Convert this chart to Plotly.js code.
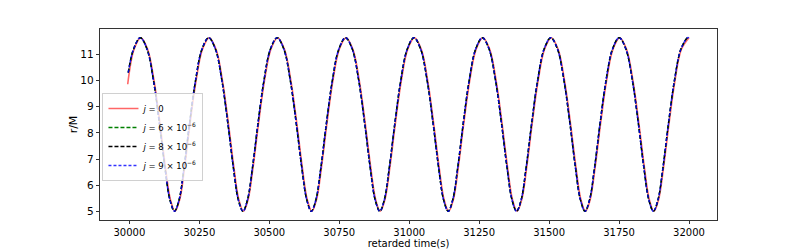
<!DOCTYPE html>
<html>
<head>
<meta charset="utf-8">
<script src="https://cdn.plot.ly/plotly-3.0.1.min.js"></script>
<style>html,body{margin:0;padding:0;background:#fff;}#chart{width:797px;height:249px;}</style>
</head>
<body>
<div id="chart"></div>
<script>
// retarded time samples for the spinning cases (j = 6e-6, 8e-6, 9e-6)
const tSpin = [29996,
  30014.75, 30039.0, 30063.25, 30086.45, 30107.9, 30127.25, 30144.75,
  30161.25, 30177.75, 30195.25, 30214.6, 30236.05, 30259.25, 30283.5, 30307.75, 30330.95, 30352.4, 30371.75, 30389.25,
  30405.75, 30422.25, 30439.75, 30459.1, 30480.55, 30503.75, 30528.0, 30552.25, 30575.45, 30596.9, 30616.25, 30633.75,
  30650.25, 30666.75, 30684.25, 30703.6, 30725.05, 30748.25, 30772.5, 30796.75, 30819.95, 30841.4, 30860.75, 30878.25,
  30894.75, 30911.25, 30928.75, 30948.1, 30969.55, 30992.75, 31017.0, 31041.25, 31064.45, 31085.9, 31105.25, 31122.75,
  31139.25, 31155.75, 31173.25, 31192.6, 31214.05, 31237.25, 31261.5, 31285.75, 31308.95, 31330.4, 31349.75, 31367.25,
  31383.75, 31400.25, 31417.75, 31437.1, 31458.55, 31481.75, 31506.0, 31530.25, 31553.45, 31574.9, 31594.25, 31611.75,
  31628.25, 31644.75, 31662.25, 31681.6, 31703.05, 31726.25, 31750.5, 31774.75, 31797.95, 31819.4, 31838.75, 31856.25,
  31872.75, 31889.25, 31906.75, 31926.1, 31947.55, 31970.75, 31995.0, 32000];
const rJ6 = [10.30,
  11.195, 11.64, 11.195, 9.98, 8.32, 6.66, 5.445,
  5.00, 5.445, 6.66, 8.32, 9.98, 11.195, 11.64, 11.195, 9.98, 8.32, 6.66, 5.445,
  5.00, 5.445, 6.66, 8.32, 9.98, 11.195, 11.64, 11.195, 9.98, 8.32, 6.66, 5.445,
  5.00, 5.445, 6.66, 8.32, 9.98, 11.195, 11.64, 11.195, 9.98, 8.32, 6.66, 5.445,
  5.00, 5.445, 6.66, 8.32, 9.98, 11.195, 11.64, 11.195, 9.98, 8.32, 6.66, 5.445,
  5.00, 5.445, 6.66, 8.32, 9.98, 11.195, 11.64, 11.195, 9.98, 8.32, 6.66, 5.445,
  5.00, 5.445, 6.66, 8.32, 9.98, 11.195, 11.64, 11.195, 9.98, 8.32, 6.66, 5.445,
  5.00, 5.445, 6.66, 8.32, 9.98, 11.195, 11.64, 11.195, 9.98, 8.32, 6.66, 5.445,
  5.00, 5.445, 6.66, 8.32, 9.98, 11.195, 11.64, 11.63];
const rJ8 = rJ6.slice();
const rJ9 = rJ6.slice();

// j = 0 case (lags very slightly)
const tZero = [29994,
  30016.75, 30041.0, 30065.25, 30088.45, 30109.9, 30129.25, 30146.75,
  30163.25, 30179.75, 30197.25, 30216.6, 30238.05, 30261.25, 30285.5, 30309.75, 30332.95, 30354.4, 30373.75, 30391.25,
  30407.75, 30424.25, 30441.75, 30461.1, 30482.55, 30505.75, 30530.0, 30554.25, 30577.45, 30598.9, 30618.25, 30635.75,
  30652.25, 30668.75, 30686.25, 30705.6, 30727.05, 30750.25, 30774.5, 30798.75, 30821.95, 30843.4, 30862.75, 30880.25,
  30896.75, 30913.25, 30930.75, 30950.1, 30971.55, 30994.75, 31019.0, 31043.25, 31066.45, 31087.9, 31107.25, 31124.75,
  31141.25, 31157.75, 31175.25, 31194.6, 31216.05, 31239.25, 31263.5, 31287.75, 31310.95, 31332.4, 31351.75, 31369.25,
  31385.75, 31402.25, 31419.75, 31439.1, 31460.55, 31483.75, 31508.0, 31532.25, 31555.45, 31576.9, 31596.25, 31613.75,
  31630.25, 31646.75, 31664.25, 31683.6, 31705.05, 31728.25, 31752.5, 31776.75, 31799.95, 31821.4, 31840.75, 31858.25,
  31874.75, 31891.25, 31908.75, 31928.1, 31949.55, 31972.75, 32000];
const rZero = [9.86,
  11.195, 11.64, 11.195, 9.98, 8.32, 6.66, 5.445,
  5.00, 5.445, 6.66, 8.32, 9.98, 11.195, 11.64, 11.195, 9.98, 8.32, 6.66, 5.445,
  5.00, 5.445, 6.66, 8.32, 9.98, 11.195, 11.64, 11.195, 9.98, 8.32, 6.66, 5.445,
  5.00, 5.445, 6.66, 8.32, 9.98, 11.195, 11.64, 11.195, 9.98, 8.32, 6.66, 5.445,
  5.00, 5.445, 6.66, 8.32, 9.98, 11.195, 11.64, 11.195, 9.98, 8.32, 6.66, 5.445,
  5.00, 5.445, 6.66, 8.32, 9.98, 11.195, 11.64, 11.195, 9.98, 8.32, 6.66, 5.445,
  5.00, 5.445, 6.66, 8.32, 9.98, 11.195, 11.64, 11.195, 9.98, 8.32, 6.66, 5.445,
  5.00, 5.445, 6.66, 8.32, 9.98, 11.195, 11.64, 11.195, 9.98, 8.32, 6.66, 5.445,
  5.00, 5.445, 6.66, 8.32, 9.98, 11.195, 11.64];

const seriesNames = ['<i>j</i> = 0', '<i>j</i> = 6 × 10<sup>−6</sup>', '<i>j</i> = 8 × 10<sup>−6</sup>', '<i>j</i> = 9 × 10<sup>−6</sup>'];
const xTickVals = [30000, 30250, 30500, 30750, 31000, 31250, 31500, 31750, 32000];
const yTickVals = [5, 6, 7, 8, 9, 10, 11];

const traces = [
  {x: tZero, y: rZero, name: seriesNames[0], mode: 'lines',
   line: {color: 'rgba(255,0,0,0.6)', width: 1.6, shape: 'spline', smoothing: 1}},
  {x: tSpin, y: rJ6, name: seriesNames[1], mode: 'lines',
   line: {color: 'green', width: 1.4, dash: '4px,2px', shape: 'spline', smoothing: 1}},
  {x: tSpin, y: rJ8, name: seriesNames[2], mode: 'lines',
   line: {color: 'black', width: 1.4, dash: '4px,2px', shape: 'spline', smoothing: 1}},
  {x: tSpin, y: rJ9, name: seriesNames[3], mode: 'lines',
   line: {color: 'rgba(0,0,255,0.8)', width: 1.5, dash: '3px,2px', shape: 'spline', smoothing: 1}}
];

const layout = {
  width: 797, height: 249,
  margin: {l: 100, r: 80, t: 29, b: 29, pad: 0},
  paper_bgcolor: '#fff', plot_bgcolor: '#fff',
  font: {family: 'DejaVu Sans, sans-serif', size: 10, color: '#000'},
  showlegend: true,
  legend: {x: 0.004, y: 0.665, xanchor: 'left', yanchor: 'top',
           bgcolor: 'rgba(255,255,255,0.8)', bordercolor: '#d0d0d0', borderwidth: 1,
           font: {size: 8.5}, tracegroupgap: 0, itemwidth: 30},
  xaxis: {range: [29895, 32100], tickmode: 'array', tickvals: xTickVals, tickformat: 'd',
          ticks: 'outside', ticklen: 3, tickwidth: 0.8, tickcolor: '#000',
          showline: true, linecolor: '#000', linewidth: 0.8, mirror: true,
          showgrid: false, zeroline: false, tickfont: {size: 10},
          title: {text: 'retarded time(s)', font: {size: 10}, standoff: 0}},
  yaxis: {range: [4.668, 11.972], tickmode: 'array', tickvals: yTickVals,
          ticks: 'outside', ticklen: 3.5, tickwidth: 0.8, tickcolor: '#000',
          showline: true, linecolor: '#000', linewidth: 0.8, mirror: true,
          showgrid: false, zeroline: false, tickfont: {size: 10.5},
          title: {text: 'r/M', font: {size: 11}, standoff: 0}}
};

Plotly.newPlot('chart', traces, layout, {displayModeBar: false, staticPlot: true});
</script>
</body>
</html>
